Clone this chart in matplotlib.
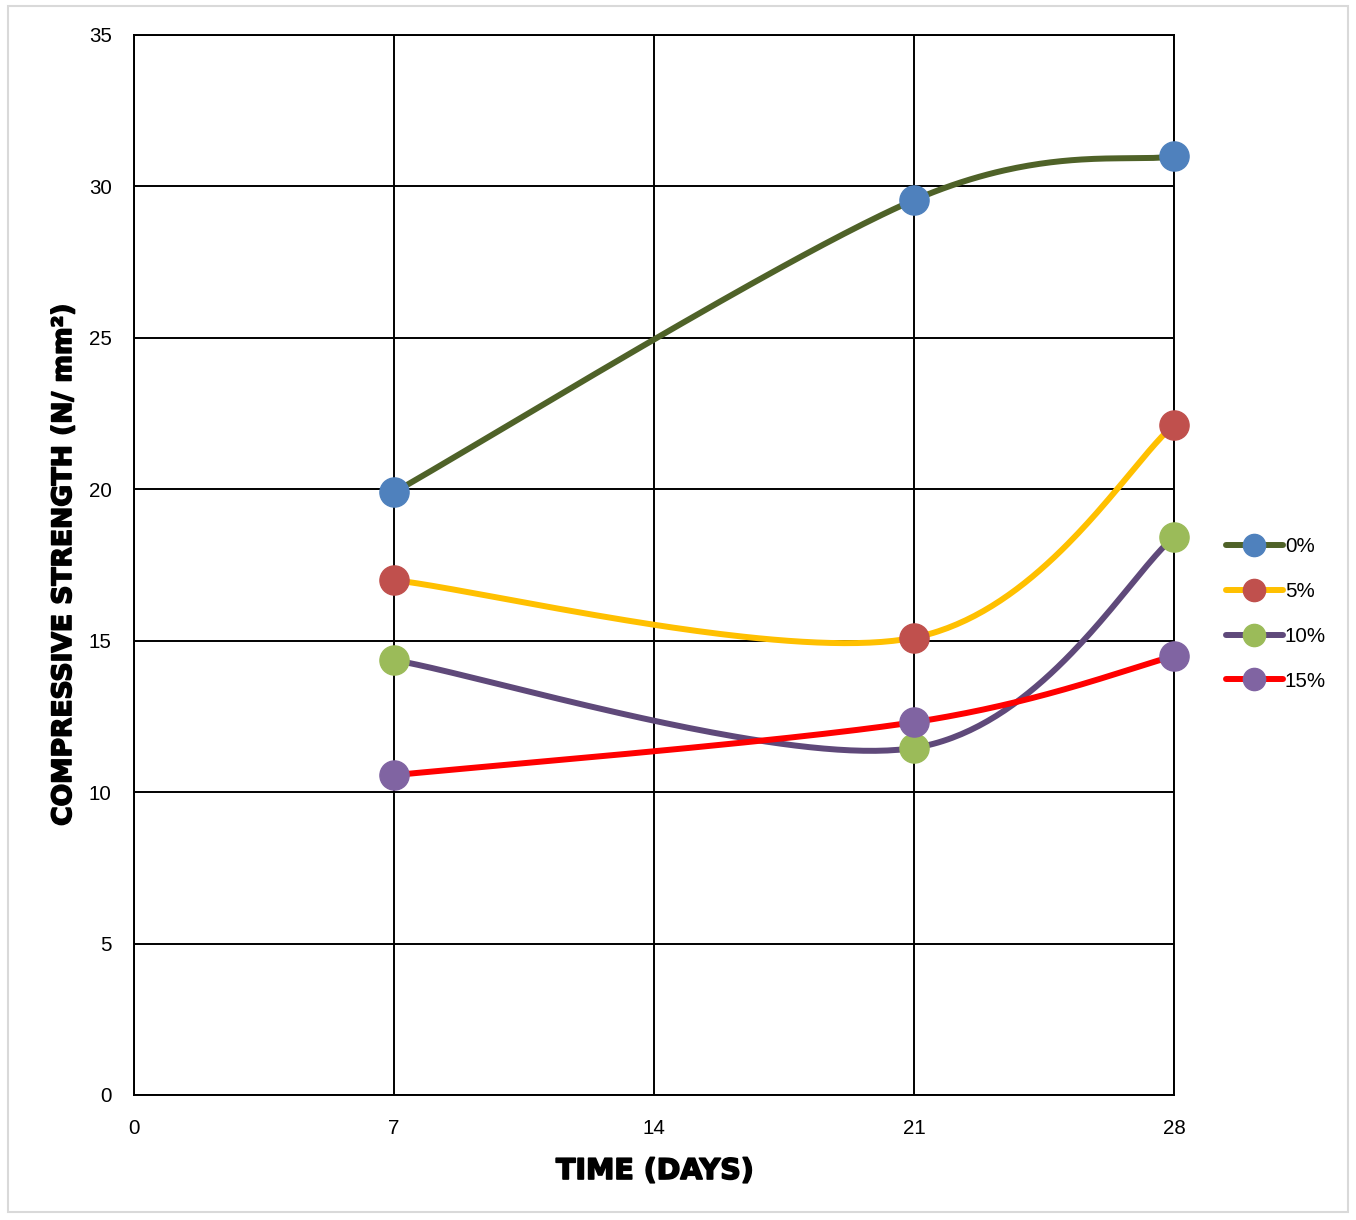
import numpy as np
import matplotlib
matplotlib.use("Agg")
import matplotlib.pyplot as plt
import matplotlib.patheffects as pe
from matplotlib.lines import Line2D
from matplotlib.patches import Rectangle

days = [7, 21, 28]
series_names = ["0%", "5%", "10%", "15%"]
strength_0 = [19.9, 29.55, 31.0]
strength_5 = [17.0, 15.1, 22.12]
strength_10 = [14.36, 11.46, 18.42]
strength_15 = [10.56, 12.31, 14.49]
x_ticks = [0, 7, 14, 21, 28]
y_ticks = [0, 5, 10, 15, 20, 25, 30, 35]

line_colors = ["#4F6228", "#FFC000", "#5F497A", "#FF0000"]
marker_colors = ["#4F81BD", "#C0504D", "#9BBB59", "#8064A2"]


def smooth_curve(xs, ys, n=80):
    """Cubic Bezier smoothing through the points (spreadsheet-style)."""
    p = np.column_stack([xs, ys]).astype(float)
    m = len(p)
    out = []
    for i in range(m - 1):
        p0 = p[i - 1] if i > 0 else p[i]
        p1, p2 = p[i], p[i + 1]
        p3 = p[i + 2] if i + 2 < m else p[i + 1]
        c1 = p1 + (p2 - p0) / 6.0
        c2 = p2 - (p3 - p1) / 6.0
        t = np.linspace(0, 1, n)[:, None]
        seg = ((1 - t) ** 3) * p1 + 3 * ((1 - t) ** 2) * t * c1 \
            + 3 * (1 - t) * t ** 2 * c2 + t ** 3 * p2
        out.append(seg if i == 0 else seg[1:])
    pts = np.vstack(out)
    return pts[:, 0], pts[:, 1]


plt.rcParams["font.family"] = ["Liberation Sans", "DejaVu Sans"]
heavy = [pe.withStroke(linewidth=1.2, foreground="black")]

W, H = 1356, 1220
fig = plt.figure(figsize=(W / 100, H / 100), dpi=100)
ax = fig.add_axes([134 / W, 1 - 1095 / H, (1174 - 134) / W, (1095 - 35) / H])

# light outer frame
fig.patches.append(Rectangle((8 / W, 1 - 1212 / H), (1348 - 8) / W, (1212 - 6) / H,
                             transform=fig.transFigure, fill=False,
                             edgecolor="#D9D9D9", linewidth=1.5))

ax.set_xlim(0, 28)
ax.set_ylim(0, 35)
ax.set_xticks(x_ticks)
ax.set_yticks(y_ticks)
ax.tick_params(length=0, labelsize=14.8)
ax.tick_params(axis="y", pad=16)
ax.tick_params(axis="x", pad=17)
ax.grid(True, color="black", linewidth=1.4)
ax.set_axisbelow(True)
for s in ax.spines.values():
    s.set_color("black")
    s.set_linewidth(1.4)

all_series = [strength_0, strength_5, strength_10, strength_15]
handles = []
for vals, lc, mc, name in zip(all_series, line_colors, marker_colors, series_names):
    sx, sy = smooth_curve(days, vals)
    ax.plot(sx, sy, color=lc, linewidth=4.3, solid_capstyle="round", zorder=3,
            clip_on=False)
    ax.plot(days, vals, linestyle="none", marker="o", markersize=21,
            markerfacecolor=mc, markeredgecolor=mc, zorder=4, clip_on=False)
    handles.append(Line2D([0], [0], color=lc, linewidth=4.3, solid_capstyle="round",
                          marker="o", markersize=16, markerfacecolor=mc,
                          markeredgecolor=mc, label=name))

ax.set_xlabel("TIME (DAYS)", fontsize=20.5, fontweight="bold",
              family=["DejaVu Sans"], path_effects=heavy)
ax.set_ylabel("COMPRESSIVE STRENGTH (N/ mm²)", fontsize=19.1, fontweight="bold",
              family=["DejaVu Sans"], path_effects=heavy)
ax.xaxis.label.set_va("center")
ax.yaxis.label.set_va("center")
ax.xaxis.set_label_coords((655 - 134) / 1040, (1095 - 1171) / 1060)
ax.yaxis.set_label_coords((64 - 134) / 1040, 0.5)

fig.legend(handles=handles, loc="center left",
           bbox_to_anchor=(1218 / W, 1 - 614 / H), frameon=False,
           fontsize=14.8, handlelength=2.75, handletextpad=0.1,
           labelspacing=1.25, borderaxespad=0)

fig.savefig("out.png", dpi=100)
